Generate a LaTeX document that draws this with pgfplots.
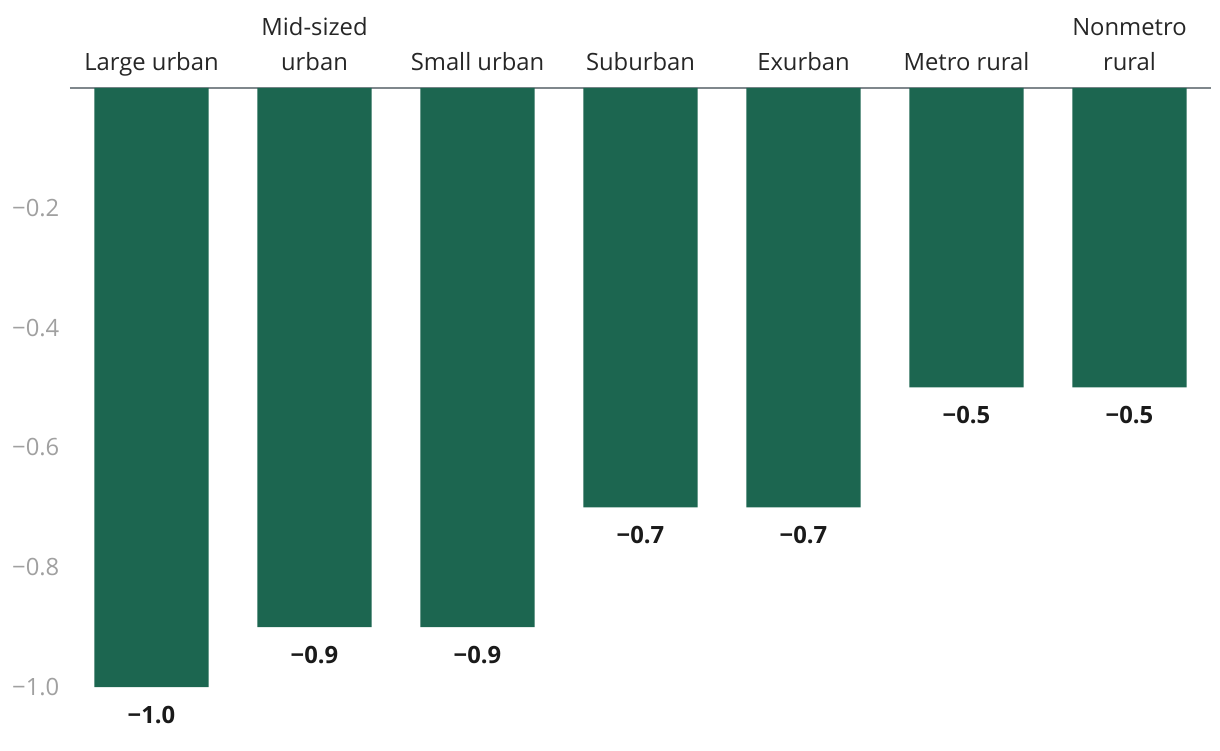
\documentclass[border=0pt]{standalone}
\usepackage{fontspec}
\setmainfont{Open Sans}
\usepackage{pgfplots}
\pgfplotsset{compat=1.18}
\usetikzlibrary{calc}
\definecolor{barg}{HTML}{1C6650}
\definecolor{axg}{HTML}{7F878C}
\definecolor{tickg}{HTML}{A0A0A0}
\definecolor{txt}{HTML}{262626}
\definecolor{val}{HTML}{1A1A1A}
\begin{document}
\begin{tikzpicture}
\begin{axis}[
 name=ax,
 x=81.5pt, y=299.5pt,
 xmin=-0.5, xmax=6.5, ymin=-1, ymax=0,
 axis x line*=top, axis y line*=left,
 y axis line style={draw=none},
 x axis line style={-, draw=axg, line width=1pt},
 major tick length=0pt,
 xtick={0,...,6},
 xticklabels={Large urban\strut, Mid-sized\\urban\strut, Small urban\strut, Suburban\strut, Exurban\strut, Metro rural\strut, Nonmetro\\rural\strut},
 xticklabel style={align=center, anchor=south, font=\fontsize{11.9}{17.3}\selectfont, text=txt},
 ytick={-1,-0.8,-0.6,-0.4,-0.2},
 yticklabels={−1.0,−0.8,−0.6,−0.4,−0.2},
 yticklabel style={font=\fontsize{11.9}{14}\selectfont, text=tickg, xshift=-1.8pt},
 ybar, bar width=0.7,
 clip=false,
 nodes near coords, point meta=explicit symbolic,
 every node near coord/.append style={anchor=north, font=\fontsize{11.9}{14}\selectfont\bfseries, text=val, yshift=-6pt},
]
\addplot[fill=barg, draw=none] coordinates {(0,-1.0) [−1.0] (1,-0.9) [−0.9] (2,-0.9) [−0.9] (3,-0.7) [−0.7] (4,-0.7) [−0.7] (5,-0.5) [−0.5] (6,-0.5) [−0.5]};
\end{axis}
\pgfresetboundingbox
\useasboundingbox ($(ax.south west)+(-35pt,-31.5pt)$) rectangle ($(ax.north east)+(4.5pt,44pt)$);
\end{tikzpicture}
\end{document}
